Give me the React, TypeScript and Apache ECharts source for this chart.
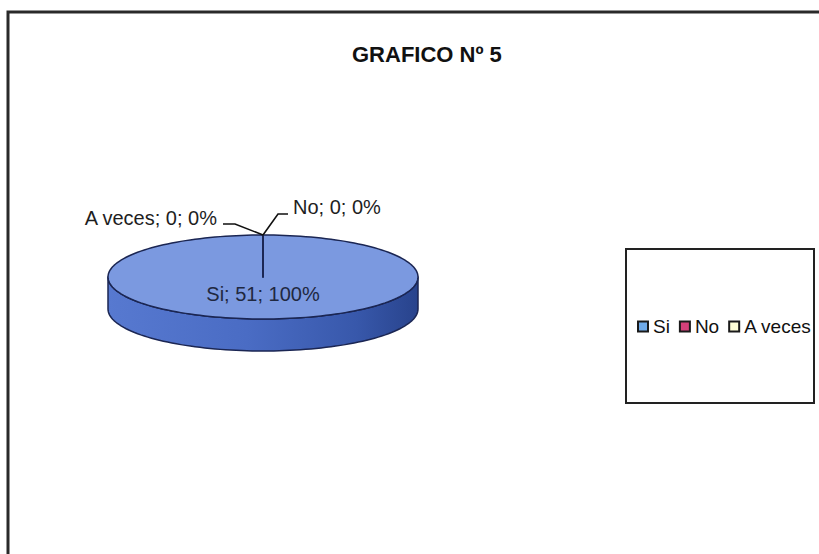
import React, { useEffect, useRef } from 'react';
import * as echarts from 'echarts';

const titleText = 'GRAFICO Nº 5';
const categories = ['Si', 'No', 'A veces'];
const values = [51, 0, 0];
const legendColors = ['#6faae8', '#d4407a', '#ffffd8'];

const FONT = '"Liberation Sans", Arial, sans-serif';

// geometry of the 3D pie (styling)
const CX = 263;
const CY = 277;
const RX = 155;
const RY = 42;
const DEPTH = 32;
const TOP_COLOR = '#7b99e0';
const EDGE = '#1b2653';

type Layout =
  | { kind: 'inside'; r: number }
  | { kind: 'outside'; bend: [number, number]; run: number; gap: number; dy: number };

const labelLayouts: Layout[] = [
  { kind: 'inside', r: 0.4 },
  { kind: 'outside', bend: [15, -21], run: 10, gap: 5, dy: -7 },
  { kind: 'outside', bend: [-28, -11], run: -12, gap: 6, dy: -6 },
];

const total = values.reduce((a, b) => a + b, 0);

function pt(a: number, r = 1, dy = 0): number[] {
  return [CX + RX * r * Math.sin(a), CY - RY * r * Math.cos(a) + dy];
}

function makeRenderItem(k: number) {
  return (params: any, api: any) => {
    let v = Number(api.value(0));
    if (isNaN(v)) v = values[k];
    let startFrac = 0;
    for (let i = 0; i < k; i++) startFrac += values[i] / total;
    const a0 = startFrac * 2 * Math.PI;
    const a1 = a0 + (v / total) * 2 * Math.PI;
    const children: any[] = [];

    // side wall (front half only)
    const s0 = Math.max(a0, Math.PI / 2);
    const s1 = Math.min(a1, 1.5 * Math.PI);
    if (s1 > s0) {
      const N = 90;
      const topPts: number[][] = [];
      const botPts: number[][] = [];
      for (let i = 0; i <= N; i++) {
        const a = s0 + ((s1 - s0) * i) / N;
        topPts.push(pt(a));
        botPts.push(pt(a, 1, DEPTH));
      }
      const pts = topPts.concat(botPts.reverse());
      children.push({
        type: 'polygon',
        z2: 1,
        shape: { points: pts },
        style: {
          fill: {
            type: 'linear',
            x: 0,
            y: 0,
            x2: 1,
            y2: 0,
            colorStops: [
              { offset: 0, color: '#5779d0' },
              { offset: 0.45, color: '#4a6cc4' },
              { offset: 0.8, color: '#3858ab' },
              { offset: 1, color: '#28438c' },
            ],
          },
          stroke: EDGE,
          lineWidth: 1.5,
          lineJoin: 'round',
        },
      });
    }

    // top face
    const topFace: number[][] = [[CX, CY]];
    const M = Math.max(2, Math.round(((a1 - a0) / (2 * Math.PI)) * 180));
    for (let i = 0; i <= M; i++) {
      topFace.push(pt(a0 + ((a1 - a0) * i) / M));
    }
    children.push({
      type: 'polygon',
      z2: 2,
      shape: { points: topFace },
      style: { fill: TOP_COLOR, stroke: EDGE, lineWidth: 1.5, lineJoin: 'round' },
    });

    // label
    const pct = total > 0 ? Math.round((v / total) * 100) : 0;
    const text = `${categories[k]}; ${v}; ${pct}%`;
    const mid = (a0 + a1) / 2;
    const lay = labelLayouts[k];
    if (lay.kind === 'inside') {
      const p = pt(mid, lay.r);
      children.push({
        type: 'text',
        z2: 5,
        x: p[0],
        y: p[1],
        style: {
          text,
          fill: '#1f2840',
          font: `20px ${FONT}`,
          align: 'center',
          verticalAlign: 'middle',
        },
      });
    } else {
      const anchor = pt(mid);
      const bend = [anchor[0] + lay.bend[0], anchor[1] + lay.bend[1]];
      const end = [bend[0] + lay.run, bend[1]];
      children.push({
        type: 'polyline',
        z2: 4,
        shape: { points: [anchor, bend, end] },
        style: { stroke: '#111', lineWidth: 1.6, fill: 'none' },
      });
      const right = lay.run > 0;
      children.push({
        type: 'text',
        z2: 5,
        x: end[0] + (right ? lay.gap : -lay.gap),
        y: end[1] + lay.dy,
        style: {
          text,
          fill: '#1e1e1e',
          font: `20px ${FONT}`,
          align: right ? 'left' : 'right',
          verticalAlign: 'middle',
        },
      });
    }
    return { type: 'group', children };
  };
}

export default function App() {
  const ref = useRef<HTMLDivElement>(null);
  useEffect(() => {
    if (!ref.current) return;
    const chart = echarts.init(ref.current, undefined, { renderer: 'svg' });
    chart.setOption({
      animation: false,
      backgroundColor: '#ffffff',
      title: {
        text: titleText,
        left: 352,
        top: 43,
        padding: 0,
        textStyle: { fontSize: 22, fontWeight: 'bold', fontFamily: FONT, color: '#111' },
      },
      legend: {
        data: categories.map((n, i) => ({
          name: n,
          itemStyle: { color: legendColors[i], borderColor: '#1a1a1a', borderWidth: 2 },
        })),
        left: 637,
        top: 317,
        orient: 'horizontal',
        icon: 'rect',
        itemWidth: 10,
        itemHeight: 10,
        itemGap: 9,
        padding: 0,
        selectedMode: false,
        textStyle: { fontSize: 19, fontFamily: FONT, color: '#111' },
      },
      graphic: [
        {
          type: 'rect',
          shape: { x: 8, y: 12, width: 900, height: 700 },
          style: { fill: 'none', stroke: '#2a2a2a', lineWidth: 3 },
          silent: true,
        },
        {
          type: 'rect',
          shape: { x: 626, y: 249, width: 188, height: 154 },
          style: { fill: 'none', stroke: '#222', lineWidth: 2 },
          silent: true,
        },
      ],
      series: categories.map((name, k) => ({
        type: 'custom',
        name,
        coordinateSystem: 'none',
        itemStyle: { color: legendColors[k] },
        data: [values[k]],
        renderItem: makeRenderItem(k),
      })),
    });
    return () => chart.dispose();
  }, []);
  return (
    <div
      ref={ref}
      style={{ position: 'absolute', left: 0, top: 0, width: 819, height: 554, background: '#fff' }}
    />
  );
}
